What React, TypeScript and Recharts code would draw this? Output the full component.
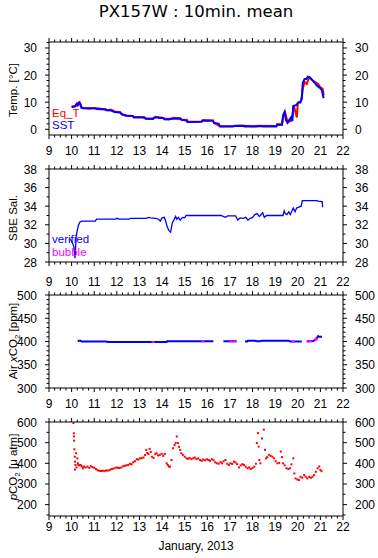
import React from 'react';
import { ComposedChart, Line, Scatter, XAxis, YAxis } from 'recharts';

// day-of-month axis (January 2013), minor ticks every 6 h
const DAYS = [9, 10, 11, 12, 13, 14, 15, 16, 17, 18, 19, 20, 21, 22];
const X_TICKS = DAYS.flatMap((d) => (d === 22 ? [d] : [d, d + 0.25, d + 0.5, d + 0.75]));

const TEMP_TICKS = [0, 2, 4, 6, 8, 10, 12, 14, 16, 18, 20, 22, 24, 26, 28, 30, 32];
const SAL_TICKS = [28, 29, 30, 31, 32, 33, 34, 35, 36, 37, 38];
const AIR_TICKS = [300, 310, 320, 330, 340, 350, 360, 370, 380, 390, 400, 410, 420, 430, 440, 450, 460, 470, 480, 490, 500];
const PCO2_TICKS = [150, 200, 250, 300, 350, 400, 450, 500, 550, 600];

// [day, value]
const sst = [
  [10.0, 8.2], [10.1, 8.3], [10.17, 8.5], [10.22, 9.3], [10.27, 8.8], [10.33, 9.8], [10.38, 9.5], [10.43, 8.0],
  [10.5, 7.8], [10.7, 7.8], [10.9, 7.8], [11.05, 7.7], [11.12, 7.5], [11.3, 7.4], [11.5, 7.4], [11.55, 7.0],
  [11.75, 6.9], [11.9, 6.4], [12.15, 6.2], [12.2, 5.6], [12.3, 5.3], [12.4, 5.0], [12.7, 4.9], [12.75, 4.4],
  [13.0, 4.4], [13.22, 4.3], [13.27, 3.9], [13.6, 3.8], [13.65, 4.3], [13.8, 4.4], [13.85, 4.2], [14.05, 4.2],
  [14.1, 3.7], [14.3, 3.6], [14.42, 3.9], [14.8, 4.0], [14.85, 3.5], [15.05, 3.3], [15.12, 2.7], [15.75, 2.8],
  [15.8, 3.2], [16.25, 3.2], [16.3, 2.3], [16.5, 2.1], [16.57, 1.0], [17.15, 1.0], [17.2, 1.3], [17.6, 1.2],
  [17.65, 1.0], [18.2, 1.0], [18.25, 1.2], [18.5, 1.0], [19.05, 1.0], [19.1, 1.7], [19.3, 1.7], [19.35, 5.2],
  [19.42, 6.5], [19.48, 3.4], [19.55, 2.4], [19.62, 3.4], [19.7, 4.4], [19.76, 3.0], [19.8, 8.6], [19.95, 9.0],
  [20.02, 9.9], [20.12, 9.9], [20.18, 11.5], [20.22, 17.1], [20.3, 18.6], [20.38, 18.6], [20.45, 19.4],
  [20.55, 19.0], [20.62, 18.4], [20.75, 17.1], [20.85, 16.1], [20.98, 15.3], [21.07, 14.4], [21.12, 12.1],
  [21.15, 11.5],
];

const eqT = [
  [10.0, 8.4], [10.15, 8.6], [10.25, 9.6], [10.35, 10.1], [10.42, 8.3], [10.5, 7.9], [10.8, 7.6], [11.0, 7.9],
  [11.3, 7.6], [11.55, 7.1], [11.75, 7.2], [11.9, 6.6], [12.15, 6.3], [12.25, 5.5], [12.45, 5.1], [12.7, 4.9],
  [12.8, 4.5], [13.2, 4.5], [13.3, 4.0], [13.6, 4.0], [13.7, 4.6], [14.0, 4.3], [14.1, 3.9], [14.4, 3.9],
  [14.5, 4.3], [14.8, 4.1], [14.9, 3.4], [15.1, 3.5], [15.15, 2.8], [15.75, 2.9], [15.8, 3.4], [16.25, 3.3],
  [16.3, 2.4], [16.55, 1.1], [17.2, 1.2], [17.5, 1.4], [18.0, 1.1], [18.3, 1.3], [19.05, 1.2], [19.1, 1.9],
  [19.3, 1.8], [19.37, 4.9], [19.45, 6.0], [19.55, 2.6], [19.67, 3.0], [19.75, 4.0], [19.82, 8.8], [19.96, 4.4],
  [20.0, 9.6], [20.15, 10.5], [20.22, 14.9], [20.3, 17.5], [20.4, 16.7], [20.5, 19.2], [20.65, 18.0],
  [20.88, 16.9], [21.0, 15.5], [21.1, 14.9], [21.15, 12.5],
];

const salinity = [
  [9.93, 30.5], [10.0, 30.2], [10.05, 30.0], [10.1, 29.6], [10.15, 28.4], [10.18, 29.8], [10.2, 30.7],
  [10.25, 31.4], [10.31, 32.0], [10.37, 32.3], [10.45, 32.4], [11.05, 32.4], [11.1, 32.6], [11.95, 32.6],
  [12.0, 32.7], [12.1, 32.6], [12.55, 32.6], [12.6, 32.7], [13.3, 32.7], [13.4, 32.8], [13.5, 32.75],
  [13.7, 32.7], [13.85, 32.6], [13.92, 32.4], [14.0, 32.75], [14.1, 32.8], [14.17, 32.3], [14.24, 31.7],
  [14.3, 31.4], [14.38, 31.2], [14.45, 32.2], [14.52, 32.5], [14.6, 32.9], [14.65, 32.6], [14.72, 32.8],
  [14.8, 32.5], [14.9, 32.8], [15.0, 32.75], [15.06, 33.0], [16.6, 33.0], [16.7, 32.9], [16.8, 32.8],
  [16.9, 32.95], [17.25, 32.95], [17.35, 32.5], [17.45, 32.75], [17.6, 32.7], [17.7, 32.8], [17.8, 32.5],
  [17.9, 32.7], [18.0, 32.8], [18.1, 33.1], [18.2, 33.2], [18.3, 32.9], [18.45, 33.3], [18.52, 32.8],
  [18.62, 33.0], [19.35, 33.0], [19.4, 33.5], [19.45, 33.2], [19.52, 33.1], [19.6, 33.4], [19.67, 33.1],
  [19.8, 33.8], [19.88, 33.4], [19.95, 33.8], [20.05, 33.9], [20.15, 34.0], [20.2, 34.6], [20.85, 34.6],
  [20.9, 34.55], [21.08, 34.5], [21.1, 33.9],
];

// null value = data gap
const airCo2 = [
  [10.27, 400.5], [10.33, 401.8], [10.4, 401.5], [10.44, 400.0], [11.55, 400.0], [11.6, 398.8], [14.2, 398.8],
  [14.22, 400.3], [16.27, 400.3], [16.5, null], [16.71, 400.3], [17.3, 400.3], [17.5, null], [17.67, 400.5],
  [17.75, 399.8], [17.8, 401.8], [18.1, 401.8], [18.2, 400.5], [18.35, 400.5], [18.4, 401.8], [19.6, 401.8],
  [19.66, 400.2], [20.18, 400.2], [20.3, null], [20.4, 400.3], [20.69, 401.0], [20.75, 403], [20.85, 408],
  [20.9, 411.5], [20.95, 410.2], [21.07, 410.2],
];

const airBubble = [
  [13.6, 398.8], [15.8, 400.3], [17.05, 400.3], [17.2, 400.3], [19.8, 400.2], [20.45, 400.3], [20.55, 400.3],
  [20.8, 404], [20.83, 406],
];

const pco2 = [
  [10.05, 668], [10.08, 595], [10.1, 545], [10.1, 530], [10.11, 510], [10.12, 468], [10.14, 432], [10.15, 408],
  [10.15, 370], [10.17, 392], [10.2, 449], [10.22, 380], [10.25, 424], [10.28, 400], [10.3, 392], [10.35, 390],
  [10.4, 392], [10.45, 385], [10.5, 376], [10.55, 384], [10.62, 380], [10.7, 384], [10.78, 378], [10.85, 386],
  [10.92, 382], [11.0, 378], [11.08, 372], [11.15, 366], [11.22, 364], [11.3, 363], [11.38, 364], [11.45, 362],
  [11.52, 366], [11.6, 364], [11.68, 368], [11.75, 372], [11.82, 374], [11.9, 376], [11.98, 380], [12.05, 378],
  [12.12, 377], [12.2, 380], [12.28, 386], [12.35, 388], [12.42, 390], [12.5, 392], [12.58, 398], [12.65, 395],
  [12.72, 405], [12.8, 410], [12.88, 420], [12.95, 418], [13.02, 424], [13.1, 425], [13.18, 428], [13.25, 440],
  [13.3, 465], [13.35, 450], [13.4, 445], [13.45, 470], [13.5, 455], [13.55, 432], [13.62, 426], [13.7, 445],
  [13.76, 449], [13.82, 438], [13.9, 441], [13.98, 446], [14.05, 436], [14.12, 445], [14.2, 400], [14.25, 392],
  [14.3, 384], [14.35, 384], [14.42, 416], [14.48, 473], [14.55, 488], [14.6, 498], [14.65, 530], [14.7, 498],
  [14.75, 480], [14.8, 465], [14.85, 449], [14.92, 441], [15.0, 432], [15.08, 424], [15.15, 422], [15.22, 426],
  [15.3, 420], [15.38, 424], [15.45, 428], [15.52, 420], [15.6, 424], [15.68, 416], [15.75, 412], [15.82, 418],
  [15.9, 414], [15.98, 420], [16.05, 416], [16.12, 412], [16.2, 420], [16.28, 415], [16.35, 405], [16.42, 400],
  [16.5, 398], [16.58, 406], [16.65, 400], [16.72, 410], [16.8, 416], [16.88, 398], [16.95, 392], [17.02, 400],
  [17.1, 397], [17.18, 408], [17.25, 404], [17.32, 396], [17.4, 380], [17.48, 390], [17.55, 396], [17.62, 392],
  [17.7, 384], [17.78, 376], [17.85, 380], [17.92, 372], [18.0, 378], [18.08, 384], [18.15, 398], [18.19, 498],
  [18.22, 611], [18.24, 546], [18.27, 481], [18.3, 416], [18.35, 400], [18.42, 520], [18.46, 647], [18.5, 563],
  [18.55, 465], [18.6, 424], [18.65, 430], [18.72, 441], [18.8, 436], [18.88, 432], [18.95, 424], [19.02, 410],
  [19.1, 400], [19.18, 402], [19.25, 457], [19.3, 430], [19.35, 400], [19.42, 390], [19.5, 376], [19.58, 372],
  [19.66, 376], [19.72, 395], [19.8, 424], [19.85, 351], [19.9, 327], [19.98, 322], [20.05, 319], [20.12, 335],
  [20.2, 330], [20.28, 343], [20.35, 335], [20.42, 327], [20.5, 335], [20.58, 330], [20.65, 335], [20.72, 343],
  [20.8, 359], [20.88, 376], [20.95, 385], [21.0, 368], [21.05, 362],
];

const pts = (arr: (number | null)[][]) => arr.map(([x, y]) => ({ x, y }));

const FONT = '"Liberation Sans", Arial, sans-serif';
const TOP_H = 20;
const BOT_H = 30;

function BottomTick(props: any) {
  const { x, y, payload, labelDy } = props;
  const v = payload.value;
  const major = Number.isInteger(v);
  return (
    <g>
      <line x1={x} y1={y} x2={x} y2={y + (major ? 4 : 2.5)} stroke="#000" />
      {major && (
        <text x={x} y={y + labelDy} textAnchor="middle" fontSize={12} fontFamily={FONT} fill="#000">
          {v}
        </text>
      )}
    </g>
  );
}

function TopTick(props: any) {
  const { x, y, payload } = props;
  const major = Number.isInteger(payload.value);
  return <line x1={x} y1={y} x2={x} y2={y - (major ? 4 : 2.5)} stroke="#000" />;
}

function SideTick(props: any) {
  const { x, y, payload, step, side } = props;
  const v = payload.value;
  const major = v % step === 0;
  const len = major ? 4 : 2.5;
  const dir = side === 'left' ? -1 : 1;
  return (
    <g>
      <line x1={x} y1={y} x2={x + dir * len} y2={y} stroke="#000" />
      {major && (
        <text x={x + dir * 12} y={y + 4.5} textAnchor={side === 'left' ? 'end' : 'start'}
          fontSize={12} fontFamily={FONT} fill="#000">
          {v}
        </text>
      )}
    </g>
  );
}

function Panel({ boxTop, boxH, domain, ticks, step, labelDy, children }: any) {
  return (
    <div style={{ position: 'absolute', left: 0, top: boxTop - TOP_H, width: 378, height: TOP_H + boxH + BOT_H }}>
      <ComposedChart width={378} height={TOP_H + boxH + BOT_H} margin={{ top: 0, right: 0, bottom: 0, left: 0 }}>
        <XAxis xAxisId="b" type="number" dataKey="x" domain={[9, 22]} ticks={X_TICKS} interval={0}
          allowDataOverflow height={BOT_H} axisLine={{ stroke: '#000' }} tickLine={false} tickSize={0}
          tickMargin={0} tick={(p: any) => <BottomTick {...p} labelDy={labelDy} />} />
        <XAxis xAxisId="t" orientation="top" type="number" dataKey="x" domain={[9, 22]} ticks={X_TICKS}
          interval={0} allowDataOverflow height={TOP_H} axisLine={{ stroke: '#000' }} tickLine={false}
          tickSize={0} tickMargin={0} tick={(p: any) => <TopTick {...p} />} />
        <YAxis yAxisId="l" type="number" dataKey="y" domain={domain} ticks={ticks} interval={0}
          allowDataOverflow width={49} axisLine={{ stroke: '#000' }} tickLine={false} tickSize={0}
          tickMargin={0} tick={(p: any) => <SideTick {...p} step={step} side="left" />} />
        <YAxis yAxisId="r" orientation="right" type="number" dataKey="y" domain={domain} ticks={ticks}
          interval={0} allowDataOverflow width={35} axisLine={{ stroke: '#000' }} tickLine={false}
          tickSize={0} tickMargin={0} tick={(p: any) => <SideTick {...p} step={step} side="right" />} />
        {children}
      </ComposedChart>
    </div>
  );
}

const dotShape = (color: string, w = 2, h = 2) => (p: any) =>
  <rect x={p.cx - w / 2} y={p.cy - h / 2} width={w} height={h} fill={color} />;

export default function App() {
  return (
    <div style={{ position: 'absolute', left: 0, top: 0, width: 378, height: 558, background: '#fff' }}>
      <Panel boxTop={42} boxH={93} domain={[-2.1, 32.2]} ticks={TEMP_TICKS} step={10} labelDy={20}>
        <Line xAxisId="b" yAxisId="l" data={pts(eqT)} dataKey="y" stroke="#ff0000" strokeWidth={2}
          dot={false} isAnimationActive={false} />
        <Line xAxisId="b" yAxisId="l" data={pts(sst)} dataKey="y" stroke="#0000ff" strokeWidth={2}
          dot={false} isAnimationActive={false} />
      </Panel>
      <Panel boxTop={169} boxH={93} domain={[28, 38]} ticks={SAL_TICKS} step={2} labelDy={24}>
        <Line xAxisId="b" yAxisId="l" data={pts(salinity)} dataKey="y" stroke="#0000ff" strokeWidth={1.3}
          dot={false} isAnimationActive={false} />
      </Panel>
      <Panel boxTop={295} boxH={93} domain={[300, 500]} ticks={AIR_TICKS} step={50} labelDy={20}>
        <Line xAxisId="b" yAxisId="l" data={pts(airCo2)} dataKey="y" stroke="#0000ff" strokeWidth={2}
          dot={false} connectNulls={false} isAnimationActive={false} />
        <Scatter xAxisId="b" yAxisId="l" data={pts(airBubble)} dataKey="y" shape={dotShape('#ff00ff', 3, 2)}
          isAnimationActive={false} />
      </Panel>
      <Panel boxTop={422} boxH={94} domain={[145, 600]} ticks={PCO2_TICKS} step={100} labelDy={15}>
        <Scatter xAxisId="b" yAxisId="l" data={pts(pco2)} dataKey="y" shape={dotShape('#ff0000', 2, 2)}
          isAnimationActive={false} />
      </Panel>

      <svg width={378} height={558} style={{ position: 'absolute', left: 0, top: 0, pointerEvents: 'none' }}>
        <text x={196} y={17} textAnchor="middle" fontSize={16.5} fontFamily='"DejaVu Sans", sans-serif'>
          PX157W : 10min. mean
        </text>

        <text transform="translate(17,90) rotate(-90)" textAnchor="middle" fontSize={11.5} fontFamily={FONT}>
          Temp. [°C]
        </text>
        <text transform="translate(17,218) rotate(-90)" textAnchor="middle" fontSize={11.5} fontFamily={FONT}>
          SBE Sal.
        </text>
        <text transform="translate(17,341) rotate(-90)" textAnchor="middle" fontSize={11.5} fontFamily={FONT}>
          Air <tspan fontStyle="italic">x</tspan>CO<tspan fontSize={8} dy={3}>2</tspan>
          <tspan dy={-3}> [ppm]</tspan>
        </text>
        <text transform="translate(17,467) rotate(-90)" textAnchor="middle" fontSize={11.5} fontFamily={FONT}>
          <tspan fontStyle="italic">p</tspan>CO<tspan fontSize={8} dy={3}>2</tspan>
          <tspan dy={-3}> [μ atm]</tspan>
        </text>

        <text x={52} y={117} fontSize={11.5} fontFamily={FONT} fill="#ff0000">Eq_T</text>
        <text x={52} y={129} fontSize={11.5} fontFamily={FONT} fill="#0000ff">SST</text>
        <text x={52} y={243} fontSize={11.5} fontFamily={FONT} fill="#0000ff">verified</text>
        <text x={52} y={256} fontSize={11.5} fontFamily={FONT} fill="#ff00ff">bubble</text>

        <text x={196} y={550} textAnchor="middle" fontSize={12} fontFamily={FONT}>January, 2013</text>
      </svg>
    </div>
  );
}
